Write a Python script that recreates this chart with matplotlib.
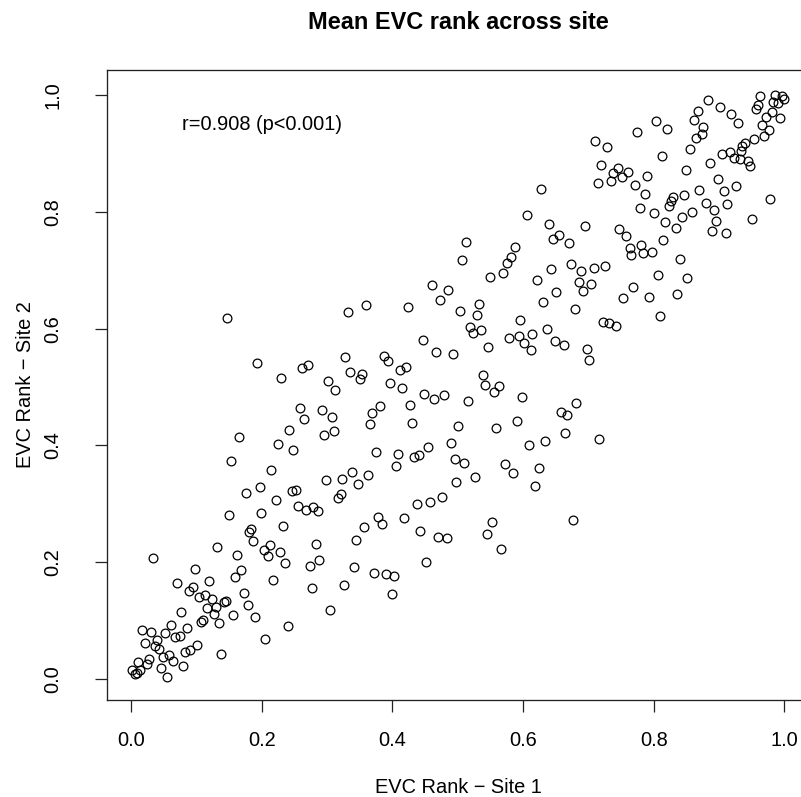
import matplotlib
matplotlib.use("Agg")
import matplotlib.pyplot as plt
import numpy as np

plt.rcParams['font.family'] = ['Liberation Sans', 'DejaVu Sans']

title = "Mean EVC rank across site"
xlabel = "EVC Rank \u2212 Site 1"
ylabel = "EVC Rank \u2212 Site 2"
annot = "r=0.908 (p<0.001)"
ticks = [0.0, 0.2, 0.4, 0.6, 0.8, 1.0]
tick_labels = ["0.0", "0.2", "0.4", "0.6", "0.8", "1.0"]

# low range points
x_low = [0.153, 0.248, 0.214, 0.298, 0.322, 0.175, 0.197, 0.221, 0.246, 0.252, 0.316, 0.150,
         0.199, 0.255, 0.267, 0.279, 0.286, 0.233, 0.184, 0.181, 0.187, 0.131, 0.212, 0.203,
         0.209, 0.227, 0.283, 0.236, 0.273, 0.288, 0.033, 0.162, 0.098, 0.168, 0.159, 0.217,
         0.070, 0.119, 0.089, 0.095, 0.103, 0.113, 0.123, 0.172, 0.142, 0.145, 0.129, 0.116,
         0.178, 0.276, 0.304, 0.076, 0.126, 0.156, 0.190, 0.110, 0.107, 0.134, 0.061, 0.086,
         0.017, 0.030, 0.052, 0.067, 0.074, 0.240, 0.021, 0.039, 0.036, 0.043, 0.205, 0.101,
         0.090, 0.082, 0.058, 0.049, 0.064, 0.138, 0.027, 0.011, 0.024, 0.045, 0.079, 0.001,
         0.014, 0.005, 0.008, 0.055]
y_low = [0.374, 0.393, 0.358, 0.340, 0.343, 0.319, 0.328, 0.306, 0.322, 0.324, 0.310, 0.281,
         0.285, 0.297, 0.290, 0.294, 0.288, 0.262, 0.257, 0.251, 0.236, 0.226, 0.229, 0.221,
         0.210, 0.217, 0.232, 0.198, 0.194, 0.204, 0.207, 0.213, 0.189, 0.186, 0.174, 0.170,
         0.164, 0.167, 0.151, 0.158, 0.140, 0.143, 0.137, 0.148, 0.132, 0.134, 0.124, 0.121,
         0.126, 0.155, 0.118, 0.114, 0.111, 0.109, 0.106, 0.101, 0.098, 0.096, 0.093, 0.087,
         0.084, 0.081, 0.078, 0.072, 0.074, 0.090, 0.062, 0.066, 0.057, 0.051, 0.068, 0.059,
         0.050, 0.047, 0.041, 0.037, 0.031, 0.043, 0.035, 0.029, 0.026, 0.018, 0.022, 0.015,
         0.015, 0.009, 0.011, 0.003]

# lower-middle points
x_mid1 = [0.375, 0.409, 0.405, 0.433, 0.440, 0.495, 0.510, 0.572, 0.584, 0.624, 0.618, 0.338,
          0.363, 0.347, 0.498, 0.526, 0.321, 0.437, 0.457, 0.476, 0.378, 0.384, 0.418, 0.356,
          0.344, 0.442, 0.470, 0.483, 0.553, 0.544, 0.566, 0.676, 0.451, 0.341, 0.372, 0.390,
          0.403, 0.399, 0.326,
          0.147, 0.193, 0.230, 0.261, 0.270, 0.301, 0.312, 0.258, 0.264, 0.292, 0.307, 0.242,
          0.310, 0.295, 0.165, 0.224]
y_mid1 = [0.388, 0.386, 0.365, 0.380, 0.383, 0.377, 0.370, 0.368, 0.353, 0.362, 0.331, 0.355,
          0.349, 0.334, 0.337, 0.346, 0.317, 0.300, 0.303, 0.312, 0.278, 0.266, 0.275, 0.260,
          0.238, 0.254, 0.244, 0.241, 0.269, 0.248, 0.223, 0.272, 0.201, 0.192, 0.182, 0.179,
          0.177, 0.145, 0.161,
          0.618, 0.541, 0.516, 0.532, 0.537, 0.510, 0.495, 0.464, 0.445, 0.460, 0.448, 0.427,
          0.424, 0.418, 0.414, 0.403]

# upper-middle points
x_mid2 = [0.507, 0.575, 0.581, 0.550, 0.569, 0.621, 0.642, 0.673, 0.688, 0.685, 0.692, 0.651,
          0.630, 0.679, 0.461, 0.485, 0.473, 0.532, 0.504, 0.529, 0.332, 0.359, 0.424, 0.519,
          0.523, 0.536, 0.596, 0.636, 0.578, 0.594, 0.614, 0.602, 0.612, 0.649, 0.662, 0.547,
          0.446, 0.467, 0.492, 0.328, 0.387, 0.393, 0.421, 0.412, 0.335, 0.353, 0.350, 0.396,
          0.415, 0.538, 0.541, 0.563, 0.556, 0.599, 0.681, 0.658, 0.668, 0.664, 0.633, 0.609,
          0.590, 0.559, 0.516, 0.479, 0.464, 0.449, 0.427, 0.430, 0.501, 0.489, 0.455, 0.381,
          0.369, 0.366,
          0.765, 0.784, 0.797, 0.840, 0.708, 0.725, 0.704, 0.806, 0.851, 0.769, 0.753, 0.793,
          0.836, 0.809, 0.722, 0.732, 0.742, 0.698, 0.701, 0.717,
          0.627, 0.606, 0.640, 0.655, 0.646, 0.670, 0.513, 0.587]
y_mid2 = [0.717, 0.713, 0.723, 0.689, 0.696, 0.683, 0.702, 0.711, 0.699, 0.680, 0.664, 0.662,
          0.646, 0.633, 0.674, 0.667, 0.649, 0.643, 0.631, 0.624, 0.628, 0.640, 0.637, 0.603,
          0.593, 0.597, 0.615, 0.600, 0.584, 0.587, 0.591, 0.575, 0.563, 0.579, 0.572, 0.569,
          0.581, 0.560, 0.556, 0.551, 0.554, 0.544, 0.535, 0.529, 0.525, 0.522, 0.513, 0.507,
          0.498, 0.520, 0.504, 0.501, 0.491, 0.483, 0.473, 0.457, 0.452, 0.421, 0.408, 0.400,
          0.442, 0.429, 0.476, 0.486, 0.479, 0.488, 0.470, 0.439, 0.433, 0.405, 0.397, 0.467,
          0.455, 0.436,
          0.726, 0.729, 0.731, 0.720, 0.704, 0.708, 0.677, 0.692, 0.686, 0.671, 0.652, 0.655,
          0.659, 0.621, 0.612, 0.609, 0.605, 0.566, 0.547, 0.411,
          0.840, 0.794, 0.779, 0.760, 0.753, 0.746, 0.748, 0.740]

# high range points
x_high = [0.963, 0.986, 0.996, 1.000, 0.983, 0.991, 0.960, 0.956, 0.883, 0.902, 0.919, 0.929,
          0.868, 0.861, 0.876, 0.874, 0.865, 0.855, 0.981, 0.972, 0.993, 0.966, 0.976, 0.969,
          0.954, 0.940, 0.936, 0.934, 0.917, 0.904, 0.923, 0.932, 0.944, 0.947, 0.886, 0.849,
          0.812, 0.803, 0.821, 0.775, 0.710, 0.729, 0.720, 0.745, 0.738, 0.760, 0.751, 0.735,
          0.714, 0.790, 0.772, 0.787, 0.779, 0.800, 0.695, 0.747, 0.757, 0.764, 0.781, 0.815,
          0.818, 0.834, 0.843, 0.858, 0.829, 0.824, 0.827, 0.846, 0.870, 0.880, 0.892, 0.908,
          0.926, 0.899, 0.913, 0.896, 0.889, 0.911, 0.950, 0.978]
y_high = [0.999, 1.000, 0.999, 0.993, 0.989, 0.986, 0.983, 0.976, 0.992, 0.979, 0.967, 0.953,
          0.973, 0.958, 0.946, 0.933, 0.927, 0.908, 0.971, 0.963, 0.961, 0.949, 0.940, 0.930,
          0.925, 0.918, 0.912, 0.905, 0.903, 0.899, 0.893, 0.890, 0.888, 0.878, 0.883, 0.872,
          0.896, 0.955, 0.942, 0.937, 0.921, 0.911, 0.881, 0.875, 0.866, 0.868, 0.859, 0.853,
          0.850, 0.862, 0.846, 0.831, 0.807, 0.798, 0.776, 0.770, 0.758, 0.738, 0.743, 0.751,
          0.782, 0.773, 0.791, 0.800, 0.825, 0.810, 0.819, 0.829, 0.838, 0.816, 0.804, 0.835,
          0.844, 0.857, 0.814, 0.785, 0.767, 0.764, 0.788, 0.822]

site1 = np.array(x_low + x_mid1 + x_mid2 + x_high)
site2 = np.array(y_low + y_mid1 + y_mid2 + y_high)

W, H = 801, 797
fig = plt.figure(figsize=(W / 100, H / 100), dpi=100)
ax = fig.add_axes([107 / W, 1 - 700 / H, (810 - 107) / W, (700 - 70) / H])

ax.plot(site1, site2, linestyle='none', marker='o', markersize=6.3,
        markerfacecolor='none', markeredgecolor='black', markeredgewidth=0.9)

ax.set_xlim(-0.0372, 1.0394)
ax.set_ylim(-0.036, 1.043)

for s in ax.spines.values():
    s.set_linewidth(0.95)
    s.set_color('#222222')

ax.set_xticks(ticks)
ax.set_xticklabels(tick_labels)
ax.set_yticks(ticks)
ax.set_yticklabels(tick_labels, rotation=90, va='center')
ax.tick_params(axis='both', direction='out', length=8.6, width=0.9, color='#222222',
               labelsize=14.4, labelcolor='black')
ax.tick_params(axis='x', pad=13.5)
ax.tick_params(axis='y', pad=23.5)

ax.text(0.2, 0.95, annot, ha='center', va='center', fontsize=14.4)

fig.text(458 / W, 1 - 29.3 / H, title, ha='center', va='baseline',
         fontsize=16.9, fontweight='bold')
fig.text(458 / W, 1 - 793 / H, xlabel, ha='center', va='baseline', fontsize=14.4)
fig.text(25.5 / W, 1 - 385 / H, ylabel, ha='center', va='center', rotation=90, fontsize=14.4)

fig.savefig("out.png", dpi=100)
